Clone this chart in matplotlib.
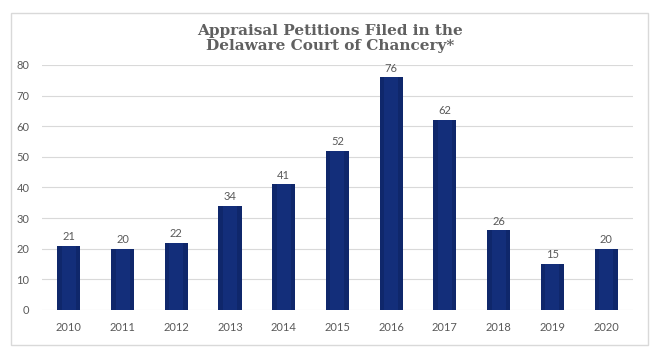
import matplotlib
matplotlib.use("Agg")
import matplotlib.pyplot as plt
from matplotlib.patches import Rectangle
import numpy as np

# ─── Data ────────────────────────────────────────────────────────────────────
years = ["2010", "2011", "2012", "2013", "2014", "2015",
         "2016", "2017", "2018", "2019", "2020"]
petitions = [21, 20, 22, 34, 41, 52, 76, 62, 26, 15, 20]

NAVY = "#0f276b"
GREY = "#595959"
GRID = "#d9d9d9"

fig = plt.figure(figsize=(6.6, 3.54), dpi=100, facecolor="white")
ax = fig.add_axes([0.0636, 0.1243, 0.8954, 0.6921])

x = np.arange(len(years))
ax.bar(x, petitions, width=0.43, color=NAVY, zorder=3)
# soft highlight inside bars for the cylinder look
ax.bar(x, petitions, width=0.26, color="#17368a", zorder=3, alpha=0.5)

for xi, v in zip(x, petitions):
    ax.text(xi, v + 1.2, str(v), ha="center", va="bottom",
            fontsize=8, color=GREY, family="Lato")

ax.set_xlim(-0.5, len(years) - 0.5)
ax.set_ylim(0, 80)
ax.set_yticks(range(0, 81, 10))
ax.set_xticks(x)
ax.set_xticklabels(years)
ax.tick_params(length=0, labelsize=8, labelcolor=GREY, pad=9)
for lab in ax.get_xticklabels() + ax.get_yticklabels():
    lab.set_family("Lato")
ax.grid(True, axis="y", color=GRID, lw=0.8, zorder=0)
for s in ax.spines.values():
    s.set_visible(False)

fig.text(0.5, 0.891, "Appraisal Petitions Filed in the\nDelaware Court of Chancery*",
         ha="center", va="center", fontsize=11, fontweight="bold",
         color="#606060", family="DejaVu Serif", linespacing=1.15)

fig.patches.append(Rectangle((0.0167, 0.025), 0.965, 0.938,
                             transform=fig.transFigure, fill=False,
                             edgecolor=GRID, lw=1.0))

fig.savefig("out.png", dpi=100, facecolor="white")
